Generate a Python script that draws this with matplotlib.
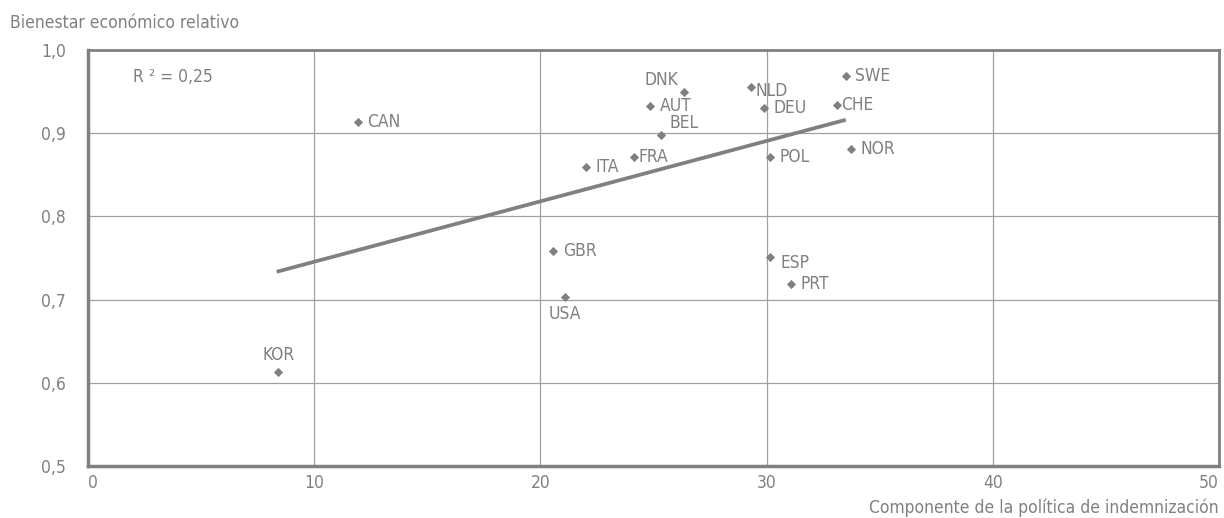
import numpy as np
import matplotlib
matplotlib.use("Agg")
from matplotlib import pyplot as plt

# data
countries = ["KOR", "CAN", "DNK", "AUT", "BEL", "ITA", "FRA", "NLD", "DEU", "POL",
             "SWE", "CHE", "NOR", "GBR", "USA", "ESP", "PRT"]
severance = [8.42, 11.93, 26.33, 24.84, 25.34, 22.02, 24.14, 29.31, 29.87, 30.13,
             33.5, 33.1, 33.72, 20.56, 21.08, 30.13, 31.08]
welfare = [0.613, 0.914, 0.9495, 0.933, 0.898, 0.859, 0.871, 0.9555, 0.930, 0.871,
           0.969, 0.934, 0.881, 0.758, 0.703, 0.751, 0.719]
trend_x = [8.42, 33.42]
trend_y = [0.734, 0.9155]
r2_text = "R ² = 0,25"
xticks = [0, 10, 20, 30, 40, 50]
yticks = [0.5, 0.6, 0.7, 0.8, 0.9, 1.0]

# label offsets in points (dx, dy, ha, va)
offsets = {
    "KOR": (0, 6, "center", "bottom"),
    "DNK": (-4, 2, "right", "bottom"),
    "USA": (0, -6, "center", "top"),
    "BEL": (6, 2, "left", "bottom"),
    "NLD": (3, -3, "left", "center"),
    "ESP": (8, -4, "left", "center"),
    "CHE": (3, 0, "left", "center"),
    "FRA": (3, 0, "left", "center"),
}

grey = "#808080"
plt.rcParams["font.family"] = ["DejaVu Sans"]
plt.rcParams["font.stretch"] = "condensed"
plt.rcParams["text.color"] = grey

fig = plt.figure(figsize=(12.24, 5.18), dpi=100)
ax = fig.add_axes([0.0719, 0.1004, 0.9240, 0.8031])

ax.plot(trend_x, trend_y, color=grey, linewidth=2.7, zorder=2)
ax.scatter(severance, welfare, marker="D", s=22, color=grey, zorder=3, linewidths=0)

for name, x, y in zip(countries, severance, welfare):
    dx, dy, ha, va = offsets.get(name, (7, 0, "left", "center"))
    ax.annotate(name, (x, y), xytext=(dx, dy), textcoords="offset points",
                ha=ha, va=va, fontsize=12.5, color=grey)

ax.text(2.0, 0.968, r2_text, fontsize=12.5, color=grey, ha="left", va="center")

ax.set_xlim(0, 50)
ax.set_ylim(0.5, 1.0)
ax.set_xticks(xticks)
ax.set_yticks(yticks)
ax.set_xticklabels([str(t) for t in xticks])
ax.set_yticklabels([f"{t:.1f}".replace(".", ",") for t in yticks])
ax.tick_params(length=0, labelsize=12.5, colors=grey)
ax.tick_params(axis="x", pad=6)
ax.tick_params(axis="y", pad=16)
labels = ax.get_xticklabels()
labels[0].set_ha("left")
labels[-1].set_ha("right")
ax.grid(True, color="#a0a0a0", linewidth=0.9)
ax.set_axisbelow(True)
for side in ["left", "bottom"]:
    ax.spines[side].set_color(grey)
    ax.spines[side].set_linewidth(2.5)
for side in ["top", "right"]:
    ax.spines[side].set_color(grey)
    ax.spines[side].set_linewidth(2)

fig.text(10 / 1224, 1 - 23 / 518, "Bienestar económico relativo", fontsize=12.5,
         color=grey, ha="left", va="center")
fig.text(1219 / 1224, 1 - 508 / 518, "Componente de la política de indemnización",
         fontsize=12.5, color=grey, ha="right", va="center")

fig.savefig("out.png", dpi=100)
